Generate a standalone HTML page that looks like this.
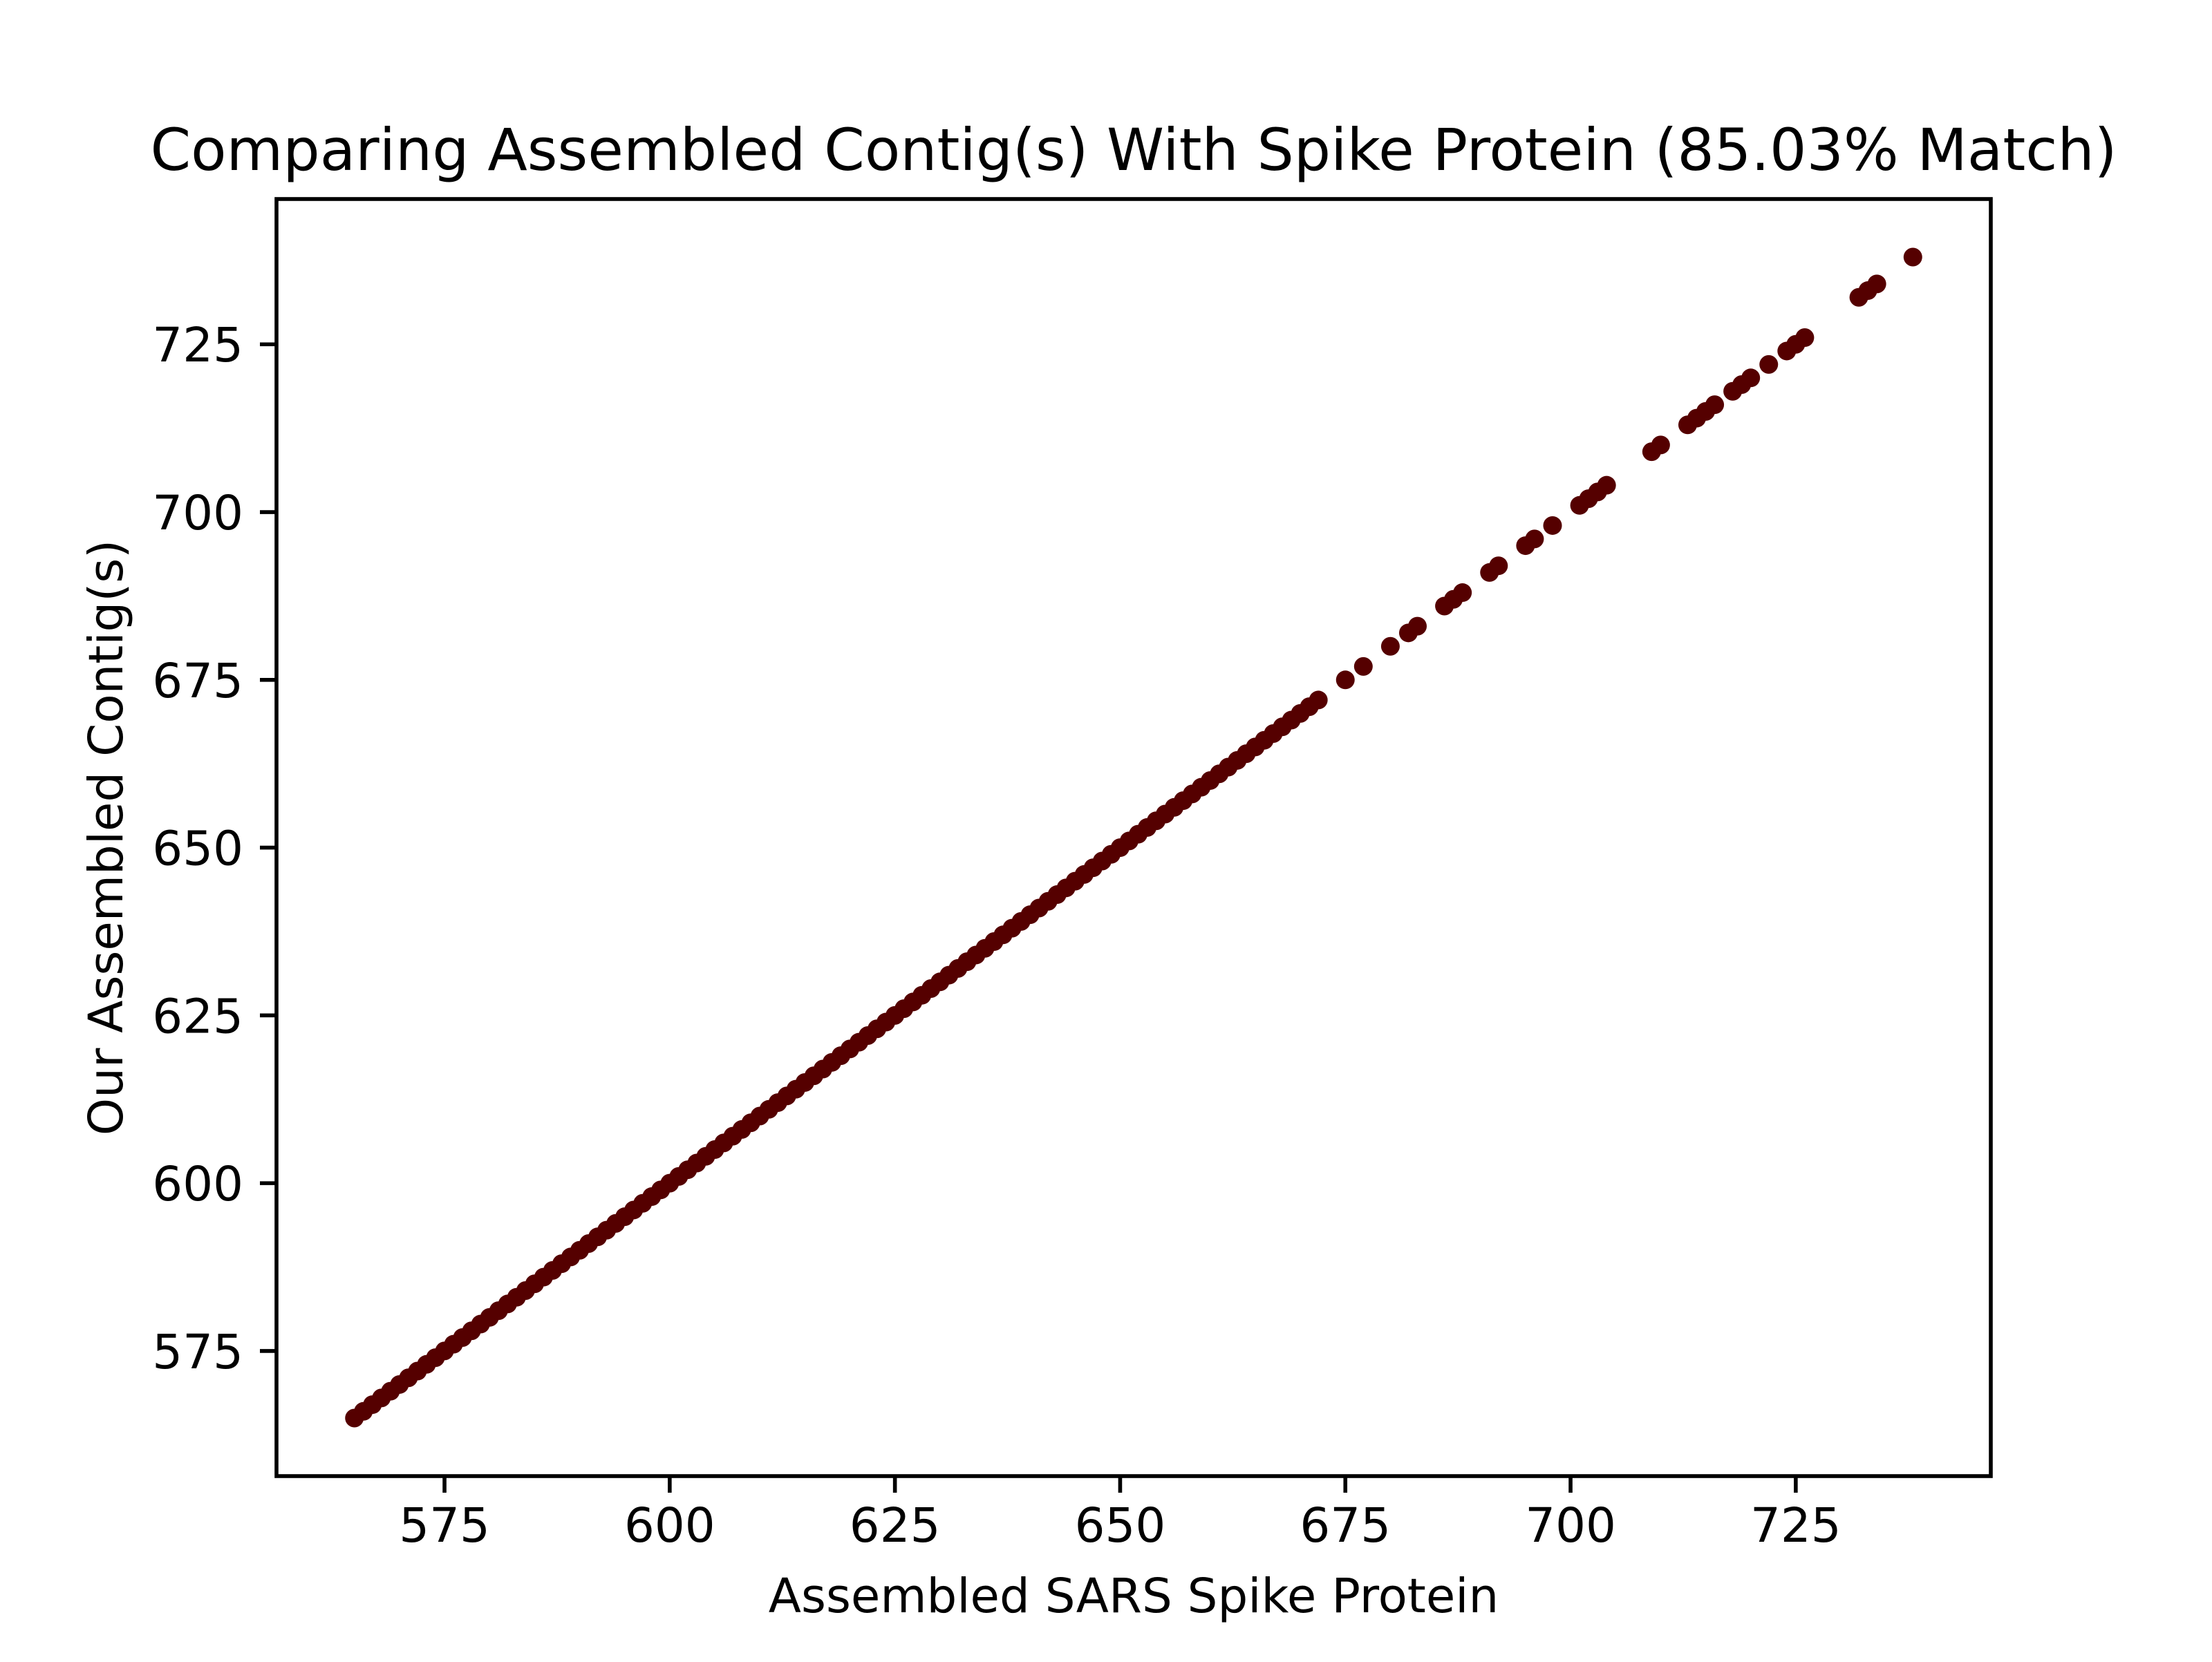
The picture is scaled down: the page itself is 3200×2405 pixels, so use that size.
<!DOCTYPE html>
<html><head><meta charset="utf-8"><style>
html,body{margin:0;padding:0;background:#fff}
svg text{font-family:"DejaVu Sans","Liberation Sans",sans-serif;fill:#000}
</style></head><body>
<svg width="3200" height="2400" viewBox="0 0 3200 2400" xmlns="http://www.w3.org/2000/svg">
<rect width="3200" height="2400" fill="#fff"/>
<text x="1640" y="246" font-size="84" text-anchor="middle">Comparing Assembled Contig(s) With Spike Protein (85.03% Match)</text>
<g id="marks"></g>
<g id="axes"></g>
<text x="1640" y="2333" font-size="69" text-anchor="middle">Assembled SARS Spike Protein</text>
<text transform="translate(177,1212) rotate(-90)" font-size="69" text-anchor="middle">Our Assembled Contig(s)</text>
</svg>
<script>
const denseStart = 565;
const denseEnd = 672;
const sparseX = [675,677,680,682,683,686,687,688,691,692,695,696,698,701,702,703,704,709,710,713,714,715,716,718,719,720,722,724,725,726,732,733,734,738];
const sparseY = [675,677,680,682,683,686,687,688,691,692,695,696,698,701,702,703,704,709,710,713,714,715,716,718,719,720,722,724,725,726,732,733,734,738];
const xTicks = [575,600,625,650,675,700,725];
const yTicks = [575,600,625,650,675,700,725];

const NS = "http://www.w3.org/2000/svg";
const L=400,R=2880,T=288,B=2136;
const xs=[],ys=[];
for(let v=denseStart;v<=denseEnd;v++){xs.push(v);ys.push(v);}
sparseX.forEach((v,i)=>{xs.push(v);ys.push(sparseY[i]);});
const xmin=Math.min(...xs),xmax=Math.max(...xs),ymin=Math.min(...ys),ymax=Math.max(...ys);
const xp=(xmax-xmin)*0.05,yp=(ymax-ymin)*0.05;
const x0=xmin-xp,x1=xmax+xp,y0=ymin-yp,y1=ymax+yp;
const sx=v=>L+(v-x0)/(x1-x0)*(R-L);
const sy=v=>B-(v-y0)/(y1-y0)*(B-T);
const marks=document.getElementById('marks');
xs.forEach((v,i)=>{
  const c=document.createElementNS(NS,'circle');
  c.setAttribute('cx',sx(v));c.setAttribute('cy',sy(ys[i]));c.setAttribute('r',13.5);
  c.setAttribute('fill','#550000');
  
  
  marks.appendChild(c);
});
const axes=document.getElementById('axes');
function add(tag,attrs,text){const e=document.createElementNS(NS,tag);for(const k in attrs)e.setAttribute(k,attrs[k]);if(text!==undefined)e.textContent=text;axes.appendChild(e);return e;}
xTicks.forEach(t=>{
  const x=sx(t);
  const l=add('line',{x1:x,x2:x,y1:B,y2:B+24,stroke:'#000','stroke-width':5.6});
  
  
  const tx=add('text',{x:x,y:B+95,'font-size':69,'text-anchor':'middle'},String(t));
  
  
});
yTicks.forEach(t=>{
  const y=sy(t);
  const l=add('line',{x1:L-24,x2:L,y1:y,y2:y,stroke:'#000','stroke-width':5.6});
  
  
  const tx=add('text',{x:L-48,y:y+25,'font-size':69,'text-anchor':'end'},String(t));
  
  
});
const fr=add('rect',{x:L,y:T,width:R-L,height:B-T,fill:'none',stroke:'#000','stroke-width':5.6});


</script>
</body></html>
